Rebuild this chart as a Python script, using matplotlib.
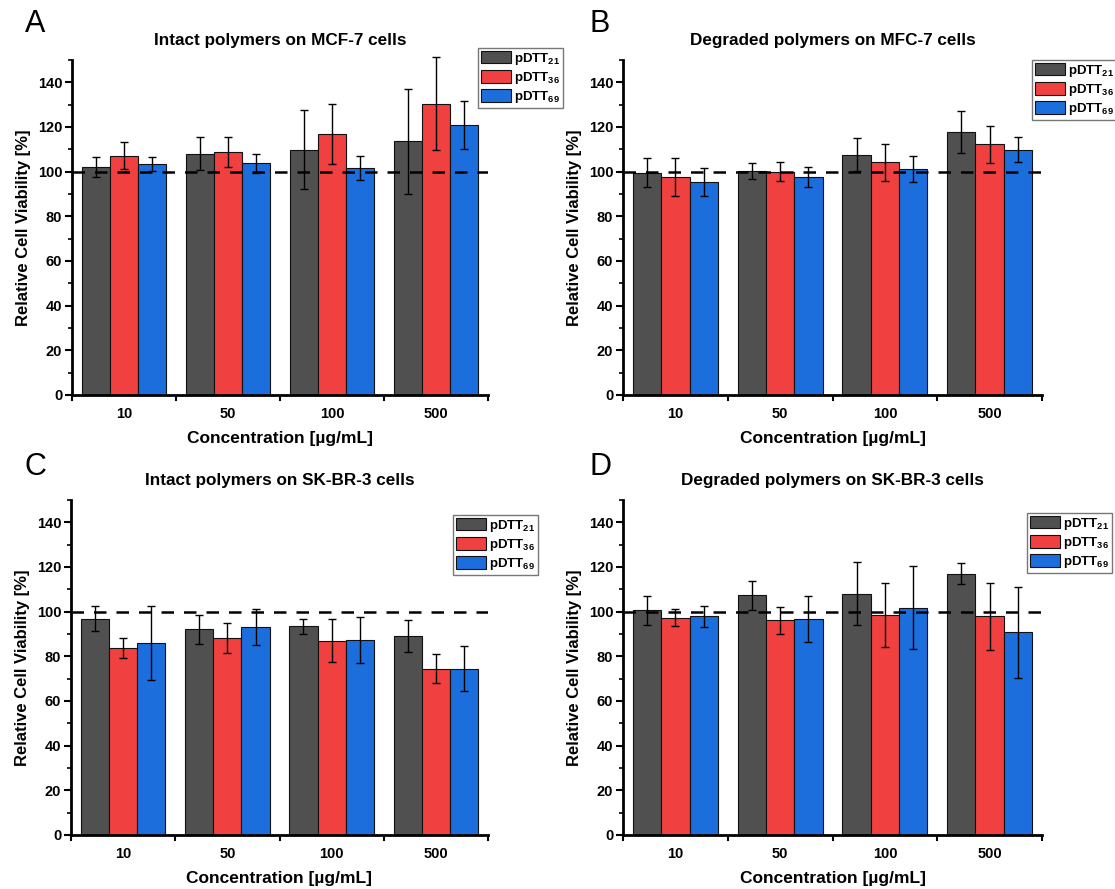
import numpy as np
import matplotlib
matplotlib.use("Agg")
import matplotlib.pyplot as plt
from matplotlib.ticker import MultipleLocator, FixedLocator

plt.rcParams['font.family'] = ['Liberation Sans', 'DejaVu Sans']
plt.rcParams['font.weight'] = 'bold'
plt.rcParams['mathtext.fontset'] = 'custom'
plt.rcParams['mathtext.rm'] = 'Liberation Sans:bold'
plt.rcParams['mathtext.it'] = 'Liberation Sans:bold'
plt.rcParams['mathtext.bf'] = 'Liberation Sans:bold'

categories = ["10", "50", "100", "500"]
series = ["pDTT$_{21}$", "pDTT$_{36}$", "pDTT$_{69}$"]
colors = ["#505050", "#F04040", "#1C6EDC"]

titles = ["Intact polymers on MCF-7 cells", "Degraded polymers on MFC-7 cells",
          "Intact polymers on SK-BR-3 cells", "Degraded polymers on SK-BR-3 cells"]
letters = ["A", "B", "C", "D"]

# panel A
a_p21 = [102.1, 108.1, 109.9, 113.6]
a_p21_err = [4.5, 7.2, 17.5, 23.6]
a_p36 = [107.2, 108.8, 116.7, 130.4]
a_p36_err = [6.0, 6.6, 13.4, 20.9]
a_p69 = [103.4, 103.7, 101.6, 121.0]
a_p69_err = [3.0, 4.4, 5.3, 10.7]
# panel B
b_p21 = [99.6, 100.3, 107.6, 117.8]
b_p21_err = [6.6, 3.7, 7.5, 9.4]
b_p36 = [97.8, 100.0, 104.2, 112.2]
b_p36_err = [8.5, 4.3, 8.3, 8.1]
b_p69 = [95.2, 97.5, 101.2, 109.9]
b_p69_err = [6.3, 4.5, 6.0, 5.4]
# panel C
c_p21 = [96.9, 92.1, 93.4, 89.1]
c_p21_err = [5.6, 6.5, 3.3, 7.3]
c_p36 = [83.9, 88.2, 86.9, 74.5]
c_p36_err = [4.5, 6.9, 9.6, 6.6]
c_p69 = [86.0, 93.0, 87.2, 74.5]
c_p69_err = [16.6, 8.1, 10.2, 10.0]
# panel D
d_p21 = [100.6, 107.3, 108.1, 117.0]
d_p21_err = [6.4, 6.6, 14.0, 4.8]
d_p36 = [97.3, 96.1, 98.4, 97.9]
d_p36_err = [3.7, 6.2, 14.3, 15.1]
d_p69 = [97.9, 96.7, 101.8, 90.7]
d_p69_err = [4.6, 10.3, 18.7, 20.4]

panels = [
    ([a_p21, a_p36, a_p69], [a_p21_err, a_p36_err, a_p69_err]),
    ([b_p21, b_p36, b_p69], [b_p21_err, b_p36_err, b_p69_err]),
    ([c_p21, c_p36, c_p69], [c_p21_err, c_p36_err, c_p69_err]),
    ([d_p21, d_p36, d_p69], [d_p21_err, d_p36_err, d_p69_err]),
]

W, H = 1115, 889
fig = plt.figure(figsize=(W / 100, H / 100), dpi=100)

# axes boxes in pixels: left, right, top, bottom
boxes = [(72, 488, 60, 395), (623, 1042, 60, 395),
         (71, 488, 500, 835), (623, 1042, 500, 835)]
letter_pos = [(25, 24), (590, 24), (25, 467), (590, 467)]
legend_pos = [(478, 48), (1032, 60), (453, 515), (1027, 513)]

x = np.arange(1, len(categories) + 1)
bw = 0.27

for i, (vals, errs) in enumerate(panels):
    l, r, t, b = boxes[i]
    ax = fig.add_axes([l / W, (H - b) / H, (r - l) / W, (b - t) / H])
    handles = []
    for j in range(3):
        hb = ax.bar(x + (j - 1) * bw, vals[j], width=bw, color=colors[j],
                    edgecolor="#111111", linewidth=0.8, zorder=2)
        eb = ax.errorbar(x + (j - 1) * bw, vals[j], yerr=errs[j], fmt="none",
                         ecolor="black", elinewidth=1, capsize=3, capthick=1, zorder=4)
        for art in eb.lines[1] + eb.lines[2]:
            art.set_clip_on(False)
        handles.append(hb)
    ax.axhline(100, color="black", linestyle=(0, (5, 4)), linewidth=1.8, zorder=3)
    ax.set_xlim(0.5, 4.5)
    ax.set_ylim(0, 150)
    ax.yaxis.set_major_locator(FixedLocator([0, 20, 40, 60, 80, 100, 120, 140]))
    ax.yaxis.set_minor_locator(MultipleLocator(10))
    ax.set_xticks(x)
    ax.set_xticklabels(categories)
    ax.xaxis.set_minor_locator(FixedLocator([0.5, 1.5, 2.5, 3.5, 4.5]))
    ax.tick_params(axis="x", which="major", length=0, pad=9, labelsize=10.5)
    ax.tick_params(axis="x", which="minor", length=4, width=1.5, direction="out")
    ax.tick_params(axis="y", which="major", length=5, width=1.5, direction="out", labelsize=10.5, pad=2)
    ax.tick_params(axis="y", which="minor", length=3, width=1.2, direction="out")
    for lab in ax.get_xticklabels() + ax.get_yticklabels():
        lab.set_fontweight("bold")
    for s in ["top", "right"]:
        ax.spines[s].set_visible(False)
    for s in ["left", "bottom"]:
        ax.spines[s].set_linewidth(2)
    ax.set_xlabel("Concentration [µg/mL]", fontsize=12.5, fontweight="bold", labelpad=7)
    ax.set_ylabel("Relative Cell Viability [%]", fontsize=12, fontweight="bold", labelpad=5)
    ax.set_title(titles[i], fontsize=12.3, fontweight="bold", pad=11)
    lx, ly = legend_pos[i]
    leg = ax.legend(handles, series, loc="upper left",
                    bbox_to_anchor=(lx / W, 1 - ly / H), bbox_transform=fig.transFigure,
                    fontsize=9.5, frameon=True, fancybox=False, edgecolor="#555555",
                    handlelength=2.3, handleheight=1.1, handletextpad=0.25,
                    borderpad=0.2, labelspacing=0.25, borderaxespad=0)
    leg.get_frame().set_linewidth(1)
    for txt in leg.get_texts():
        txt.set_fontweight("bold")
    fig.text(letter_pos[i][0] / W, 1 - letter_pos[i][1] / H, letters[i],
             fontsize=22, fontweight="normal", va="center", ha="left")

fig.savefig("out.png", dpi=100)
